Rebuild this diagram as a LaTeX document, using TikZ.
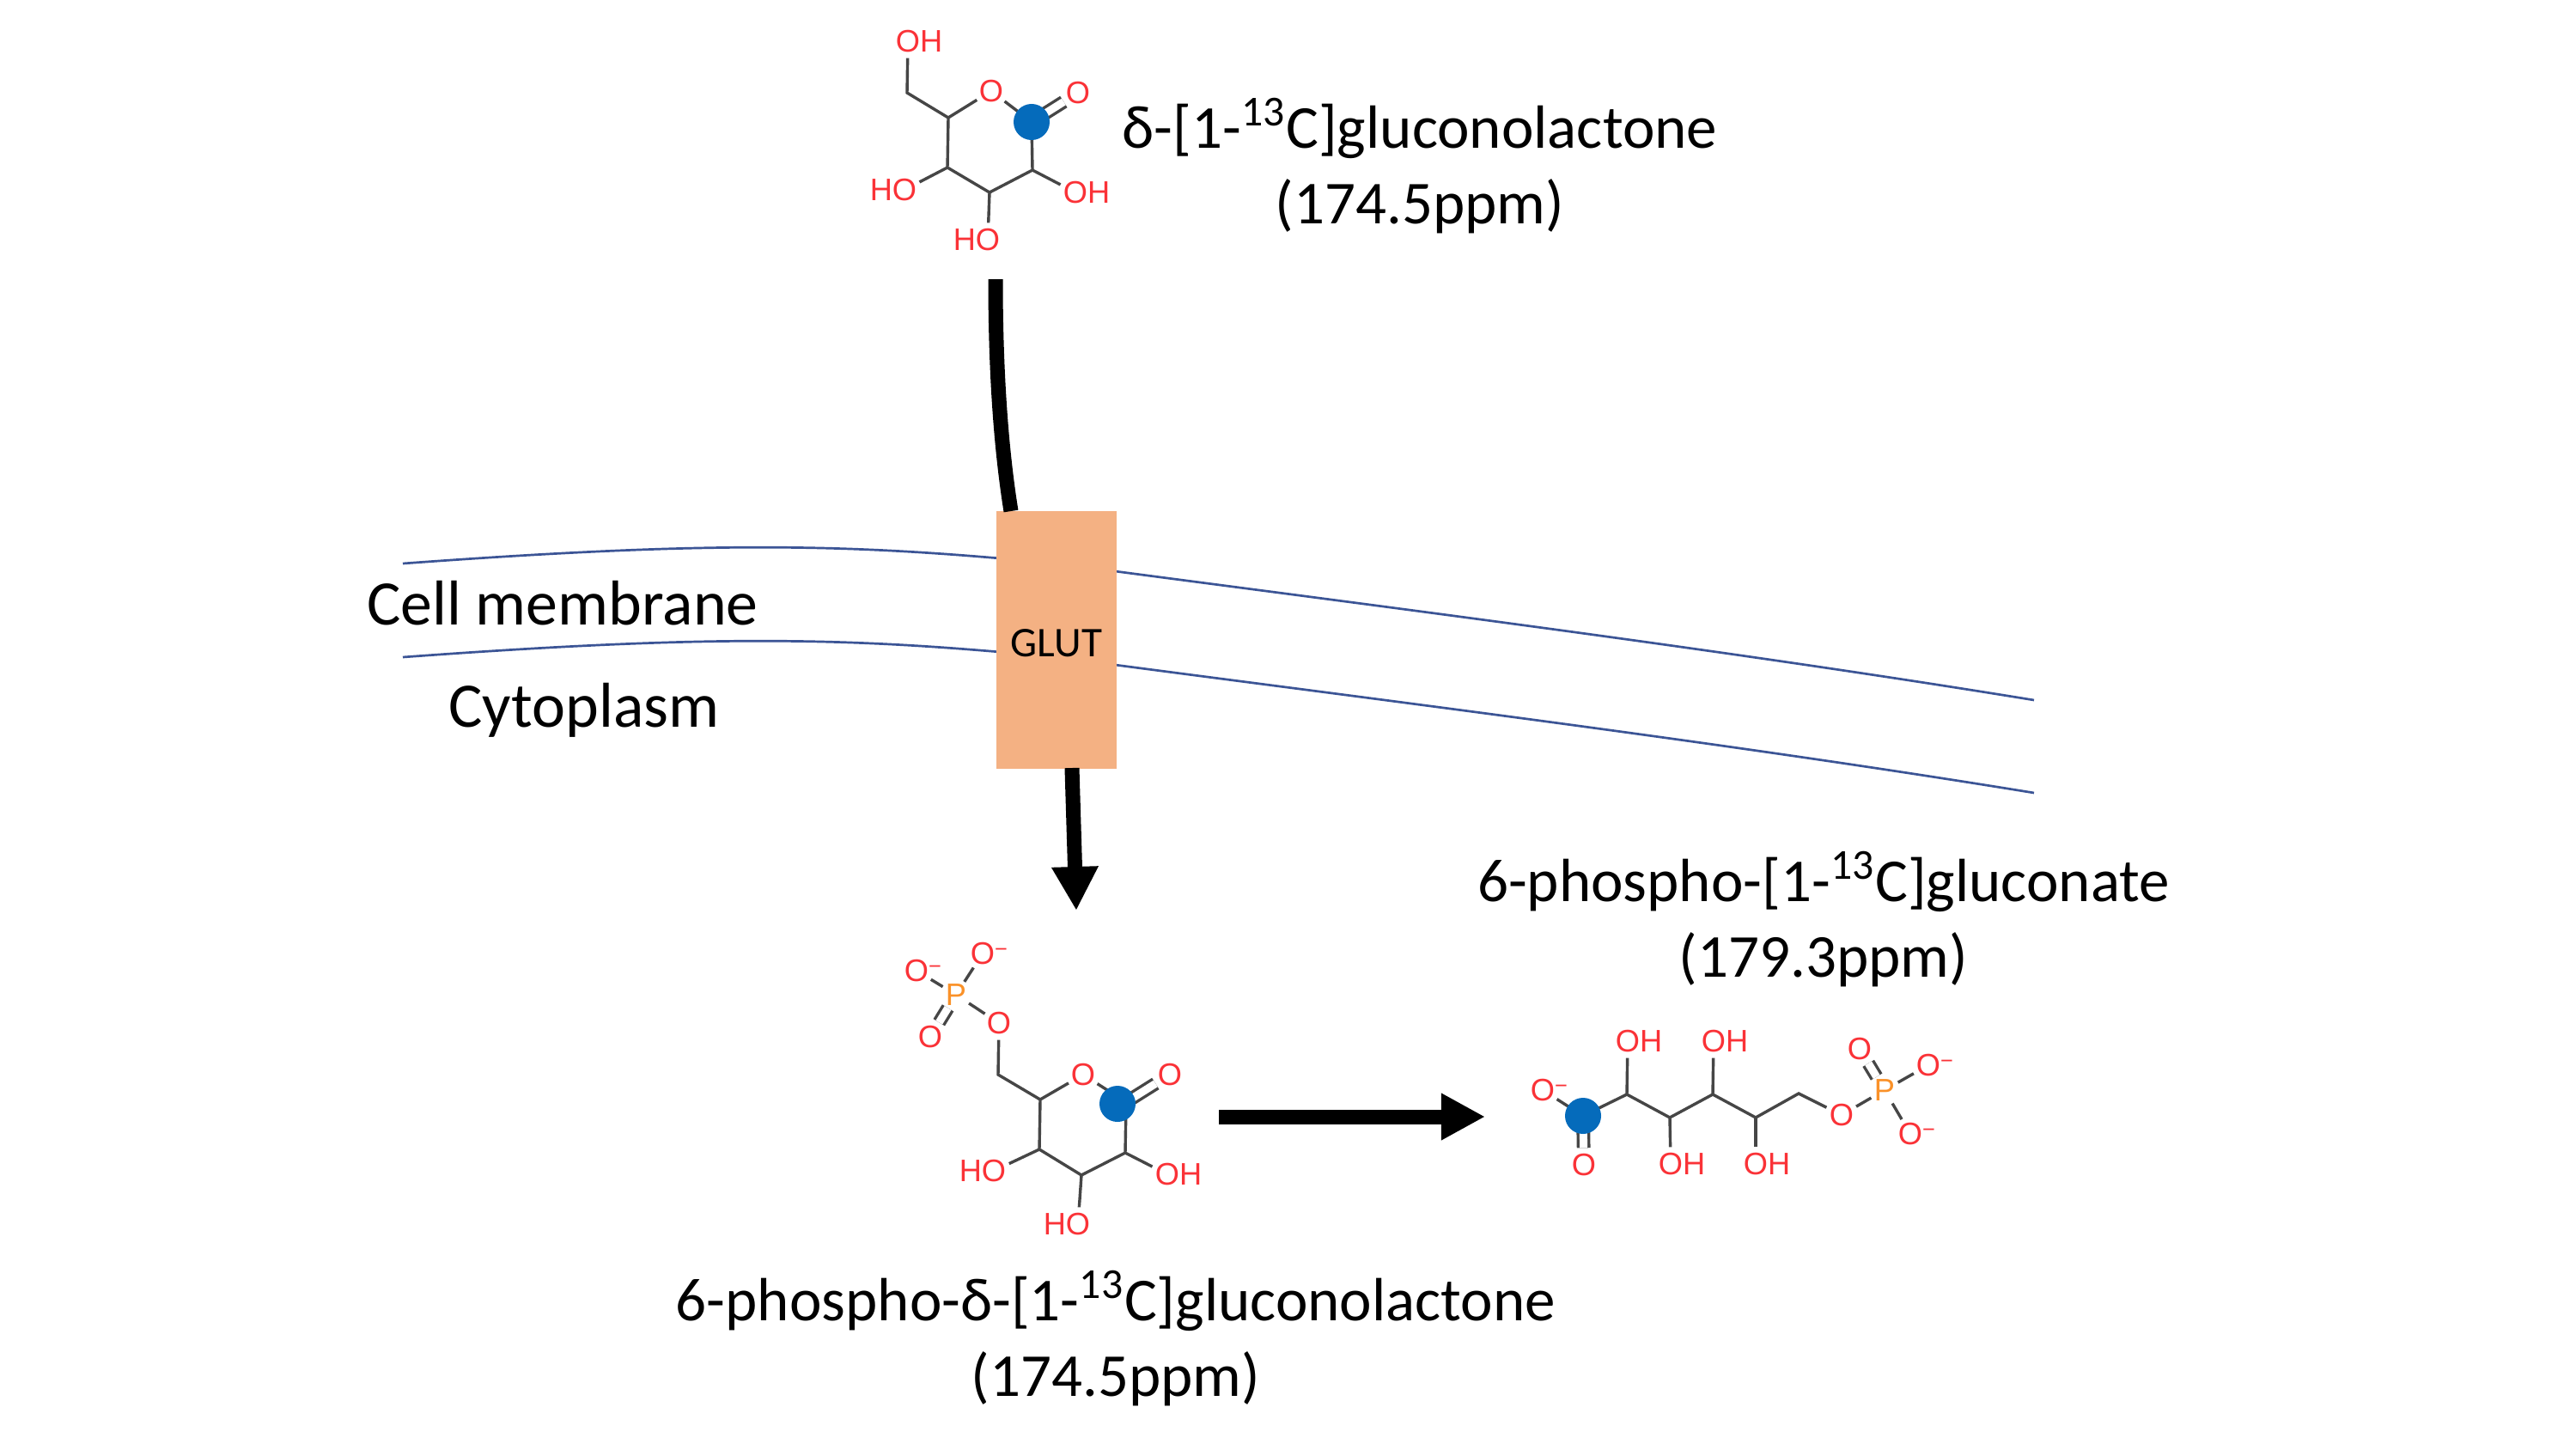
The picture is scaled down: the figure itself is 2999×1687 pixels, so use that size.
\documentclass[tikz,border=0pt]{standalone}
\usepackage{fontspec}
\setmainfont{Carlito}
\newfontfamily\atomfont{Liberation Sans}
\usepackage{tikz}
\usetikzlibrary{arrows.meta,calc}
\definecolor{oxyred}{RGB}{250,50,55}
\definecolor{phosorange}{RGB}{250,145,40}
\definecolor{bondgray}{RGB}{70,70,70}
\definecolor{labelblue}{RGB}{5,107,187}
\definecolor{membraneblue}{RGB}{60,85,150}
\definecolor{glutorange}{RGB}{244,177,131}
\newcommand{\rOH}{O\rlap{H}}
\newcommand{\lHO}{\llap{H}O}
\newcommand{\Ominus}{O\rlap{\textsuperscript{\raisebox{-0.3ex}{−}}}}

\begin{document}
\begin{tikzpicture}[
  x=0.01cm, y=-0.01cm,
  atom/.style={circle, inner sep=0pt, font=\fontsize{10.3}{11}\selectfont\atomfont},
  oxy/.style={atom, text=oxyred},
  phos/.style={atom, text=phosorange},
  bond/.style={draw=bondgray, line width=0.034cm},
  dbond/.style={bond, double=white, double distance=0.09cm},
  tracer/.style={circle, fill=labelblue, minimum size=0.42cm, inner sep=0pt},
  lab/.style={font=\fontsize{21}{25}\selectfont, align=center},
  chemlab/.style={font=\fontsize{20.2}{25}\selectfont, align=center},
  memline/.style={draw=membraneblue, line width=0.027cm},
  glutbox/.style={rectangle, fill=glutorange, minimum width=1.4cm, minimum height=2.99cm,
                  font=\fontsize{14}{16}\selectfont},
  bigline/.style={line width=0.17cm, draw=black},
  bigarr/.style={bigline, -{Triangle[length=0.51cm, width=0.51cm]}},
]
\path[use as bounding box, fill=white] (0,0) rectangle (2999,1687);

% membrane goes behind the transporter
\coordinate (memtopa) at (469,656);
\coordinate (memtopb) at (2368,815);
\coordinate (membota) at (469,765);
\coordinate (membotb) at (2368,923);
\draw[memline] (memtopa) .. controls (850,628) and (1000,634) .. (1230,656)
               .. controls (1600,705) and (2000,755) .. (memtopb);
\draw[memline] (membota) .. controls (850,737) and (1000,743) .. (1230,765)
               .. controls (1600,814) and (2000,863) .. (membotb);

\node[glutbox] (glut) at (1230,745) {\raisebox{-1.1pt}[\height][0pt]{GLUT}};
\node[lab] (cellmem) at (655,702) {Cell membrane};
\node[lab] (cyto)    at (680,827) {Cytoplasm};

% substrate
\node[chemlab] (lacname) at (1653,193) {δ-[1-\textsuperscript{13}C]gluconolactone\\(174.5ppm)};
\node[oxy] (aoh6) at (1057,48)  {\rOH};
\node[oxy] (aor)  at (1154,106) {O};
\node[oxy] (aoc)  at (1255,108) {O};
\node[oxy] (aoh4) at (1053,221) {\lHO};
\node[oxy] (aoh3) at (1150,279) {\lHO};
\node[oxy] (aoh2) at (1252,224) {\rOH};
\coordinate (ac6) at (1056,108);
\coordinate (ac5) at (1104,137);
\coordinate (ac4) at (1103,195);
\coordinate (ac3) at (1152,224);
\coordinate (ac2) at (1202,198);
\coordinate (ac1) at (1201,142);
\draw[bond] (aoh6) -- (ac6) -- (ac5) -- (ac4) -- (ac3) -- (ac2) -- (ac1) -- (aor) -- (ac5);
\draw[bond] (ac4) -- (aoh4);
\draw[bond] (ac3) -- (aoh3);
\draw[bond] (ac2) -- (aoh2);
\draw[dbond] (ac1) -- (aoc);
\node[tracer] (adot) at (ac1) {};

% lactone phosphate
\node[chemlab] (phlacname) at (1299,1558) {6-phospho-δ-[1-\textsuperscript{13}C]gluconolactone\\(174.5ppm)};
\node[oxy]  (bom1) at (1067,1130) {\Ominus};
\node[oxy]  (bom2) at (1144,1110) {\Ominus};
\node[phos] (bp)   at (1113,1158) {P};
\node[oxy]  (bod)  at (1083,1207) {O};
\node[oxy]  (bol)  at (1163,1191) {O};
\node[oxy]  (bor)  at (1261,1251) {O};
\node[oxy]  (boc)  at (1362,1251) {O};
\node[oxy]  (boh4) at (1157,1363) {\lHO};
\node[oxy]  (boh3) at (1255,1425) {\lHO};
\node[oxy]  (boh2) at (1359,1367) {\rOH};
\coordinate (bc6) at (1162,1251);
\coordinate (bc5) at (1211,1280);
\coordinate (bc4) at (1210,1338);
\coordinate (bc3) at (1259,1368);
\coordinate (bc2) at (1310,1342);
\coordinate (bc1) at (1311,1283);
\draw[bond] (bom1) -- (bp);
\draw[bond] (bom2) -- (bp);
\draw[bond] (bp) -- (bol);
\draw[dbond] (bp) -- (bod);
\draw[bond] (bol) -- (bc6) -- (bc5) -- (bc4) -- (bc3) -- (bc2) -- (bc1) -- (bor) -- (bc5);
\draw[bond] (bc4) -- (boh4);
\draw[bond] (bc3) -- (boh3);
\draw[bond] (bc2) -- (boh2);
\draw[dbond] (bc1) -- (boc);
\node[tracer] (bdot) at (1301,1285) {};

% gluconate phosphate
\node[chemlab] (phgluname) at (2123,1070) {6-phospho-[1-\textsuperscript{13}C]gluconate\\(179.3ppm)};
\node[oxy]  (com)  at (1796,1269) {\Ominus};
\node[oxy]  (cod)  at (1844,1356) {O};
\node[oxy]  (coh2) at (1895,1212) {\rOH};
\node[oxy]  (coh3) at (1945,1355) {\rOH};
\node[oxy]  (coh4) at (1995,1212) {\rOH};
\node[oxy]  (coh5) at (2044,1355) {\rOH};
\node[oxy]  (col)  at (2144,1298) {O};
\node[phos] (cp)   at (2194,1269) {P};
\node[oxy]  (cpd)  at (2165,1221) {O};
\node[oxy]  (cm1)  at (2245,1240) {\Ominus};
\node[oxy]  (cm2)  at (2224,1320) {\Ominus};
\coordinate (cc1) at (1843,1299);
\coordinate (cc2) at (1894,1274);
\coordinate (cc3) at (1944,1301);
\coordinate (cc4) at (1994,1274);
\coordinate (cc5) at (2044,1301);
\coordinate (cc6) at (2094,1273);
\draw[bond] (com) -- (cc1) -- (cc2) -- (cc3) -- (cc4) -- (cc5) -- (cc6) -- (col) -- (cp);
\draw[bond] (cc2) -- (coh2);
\draw[bond] (cc3) -- (coh3);
\draw[bond] (cc4) -- (coh4);
\draw[bond] (cc5) -- (coh5);
\draw[bond] (cp) -- (cm1);
\draw[bond] (cp) -- (cm2);
\draw[dbond] (cp) -- (cpd);
\draw[dbond] (cc1) -- (cod);
\node[tracer] (cdot) at (cc1) {};

% big arrows
\coordinate (uptake)  at (1159,325);
\coordinate (glutin)  at (1177,595);
\coordinate (glutout) at (1248,894);
\coordinate (intip)   at (1253,1060);
\coordinate (hydra)   at (1419,1300);
\coordinate (hydrb)   at (1729,1300);
\draw[bigline] (uptake) .. controls (1159,430) and (1165,520) .. (glutin);
\draw[bigarr] (glutout) -- (intip);
\draw[bigarr] (hydra) -- (hydrb);
\end{tikzpicture}
\end{document}
